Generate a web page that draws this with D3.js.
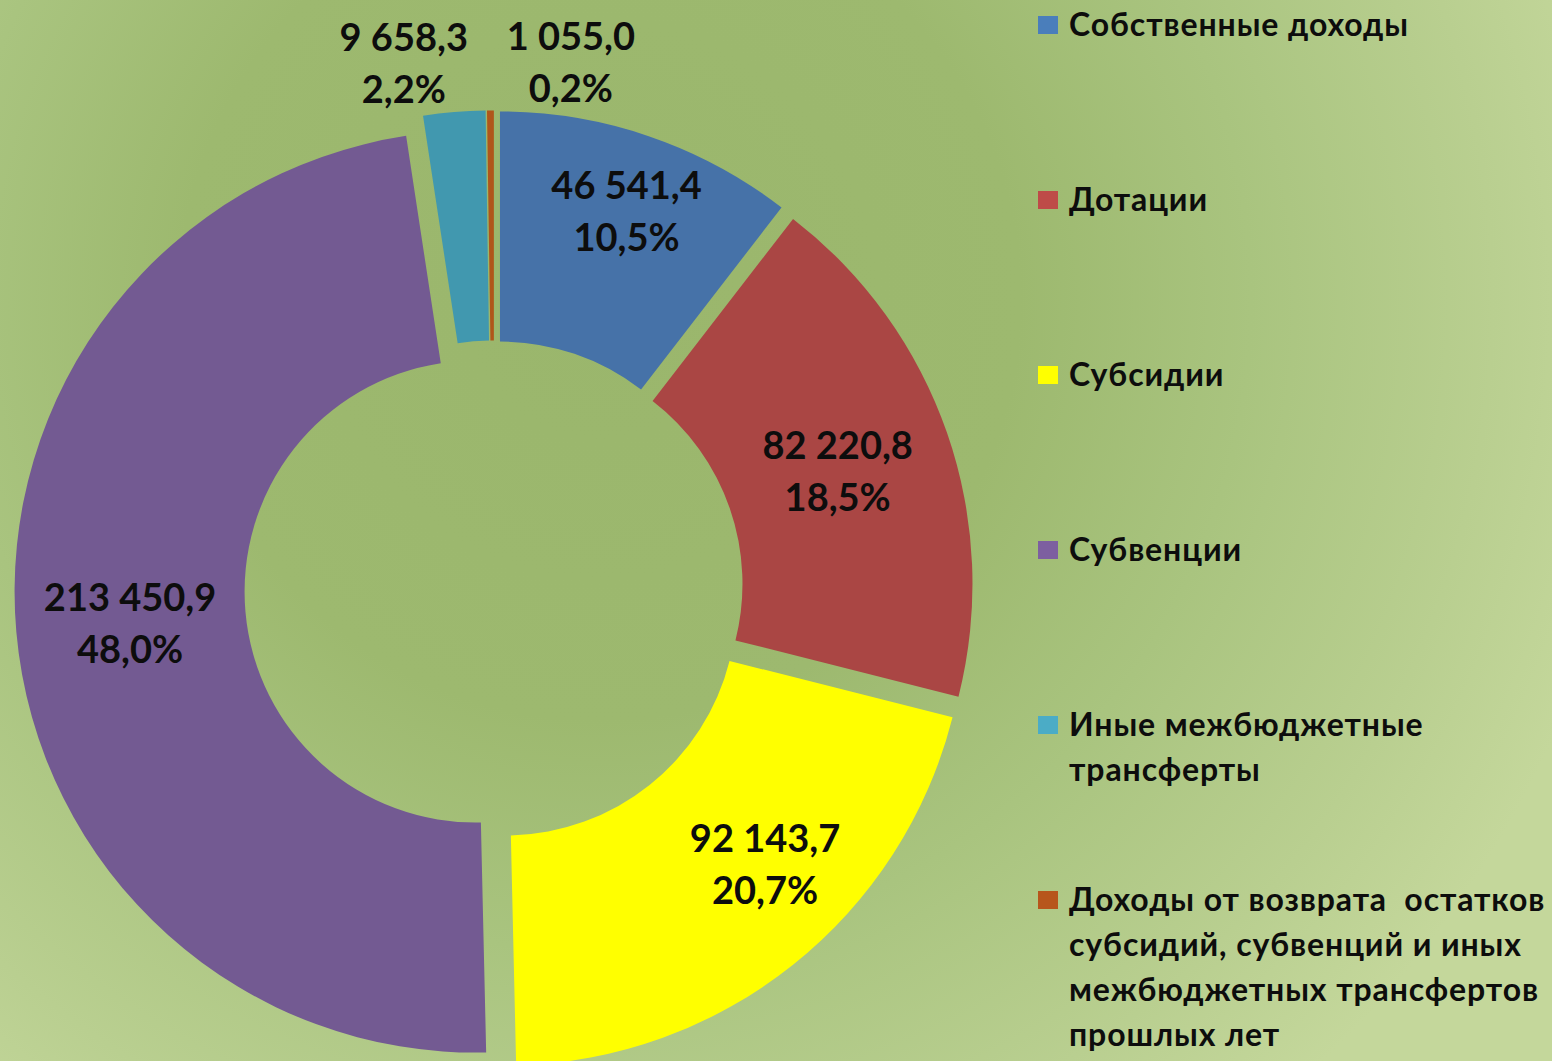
<!DOCTYPE html>
<html>
<head>
<meta charset="utf-8">
<script src="https://cdn.jsdelivr.net/npm/d3@7"></script>
<style>
  html, body { margin: 0; padding: 0; overflow: hidden; }
  svg { display: block; }
</style>
</head>
<body>
<svg id="chart" width="1552" height="1061"></svg>
<script>
// ---- data ----
const categories = [
  "Собственные доходы",
  "Дотации",
  "Субсидии",
  "Субвенции",
  "Иные межбюджетные трансферты",
  "Доходы от возврата остатков субсидий, субвенций и иных межбюджетных трансфертов прошлых лет"
];
const legendLines = [
  ["Собственные доходы"],
  ["Дотации"],
  ["Субсидии"],
  ["Субвенции"],
  ["Иные межбюджетные", "трансферты"],
  ["Доходы от возврата  остатков", "субсидий, субвенций и иных", "межбюджетных трансфертов", "прошлых лет"]
];
const values = [46541.4, 82220.8, 92143.7, 213450.9, 9658.3, 1055.0];
const percents = [10.5, 18.5, 20.7, 48.0, 2.2, 0.2];

// ---- style / layout ----
const sliceColors  = ["#4672a8", "#aa4644", "#ffff00", "#735a92", "#4198af", "#b0561a"];
const legendColors = ["#4a7ebb", "#be4b48", "#ffff00", "#7d5fa0", "#4bacc6", "#b7561c"];
// label placement: [radius, angle in degrees] relative to each exploded slice centre
const labelPolar = [[383, 19.3], [345, 71], [367, 135], [347, 264.7], [516, 350.1], [515, 8.6]];

const W = 1552, H = 1061;
const cx = 494, cy = 590;
const outerR = 461, innerR = 231, explode = 18.5;

const svg = d3.select("#chart");

// background gradient
const defs = svg.append("defs");
const grad = defs.append("radialGradient")
  .attr("id", "bg").attr("gradientUnits", "userSpaceOnUse")
  .attr("cx", 600).attr("cy", 300).attr("r", 1050);
[[0, "#9ab66c"], [0.4, "#9db96f"], [0.62, "#a9c47f"], [0.85, "#b9cf90"], [1, "#c4d79b"]]
  .forEach(([o, c]) => grad.append("stop").attr("offset", o).attr("stop-color", c));
svg.append("rect").attr("width", W).attr("height", H).attr("fill", "url(#bg)");

const loc = d3.formatLocale({decimal: ",", thousands: "\u00a0", grouping: [3], currency: ["", ""]});
const fmtVal = loc.format(",.1f");
const fmtPct = loc.format(".1f");

const pie = d3.pie().sort(null).value(d => d).startAngle(0).endAngle(2 * Math.PI);
const arcs = pie(values);
const arc = d3.arc().innerRadius(innerR).outerRadius(outerR);

const g = svg.append("g").attr("transform", `translate(${cx},${cy})`);

function sliceOffset(a) {
  const m = (a.startAngle + a.endAngle) / 2;
  return [Math.sin(m) * explode, -Math.cos(m) * explode];
}

const slices = g.selectAll("g.slice").data(arcs).enter().append("g")
  .attr("class", "slice")
  .attr("transform", d => { const o = sliceOffset(d); return `translate(${o[0]},${o[1]})`; });

slices.append("path")
  .attr("d", arc)
  .attr("fill", (d, i) => sliceColors[i]);

const fontFam = "Lato, 'Open Sans', 'DejaVu Sans', sans-serif";
const labelSize = 38;
const lineGap = 52;

slices.append("text")
  .attr("text-anchor", "middle")
  .attr("font-family", fontFam)
  .attr("font-weight", "bold")
  .attr("font-size", labelSize)
  .attr("fill", "#0d0d0d")
  .each(function(d, i) {
    const [r, ang] = labelPolar[i];
    const a = ang * Math.PI / 180;
    const x = Math.sin(a) * r, y = -Math.cos(a) * r;
    const t = d3.select(this);
    t.append("tspan").attr("x", x).attr("y", y - lineGap / 2 + labelSize * 0.36).text(fmtVal(values[i]));
    t.append("tspan").attr("x", x).attr("y", y + lineGap / 2 + labelSize * 0.36).text(fmtPct(percents[i]) + "%");
  });

// legend
const legX = 1038, legY0 = 25, legStep = 175, legLine = 45, legSize = 32;
const leg = svg.append("g");
const items = leg.selectAll("g").data(categories).enter().append("g")
  .attr("transform", (d, i) => `translate(${legX},${legY0 + i * legStep})`);
items.append("rect")
  .attr("x", 0).attr("y", -9).attr("width", 20).attr("height", 18)
  .attr("fill", (d, i) => legendColors[i]);
items.append("text")
  .attr("font-family", fontFam)
  .attr("font-weight", "bold")
  .attr("font-size", legSize)
  .attr("letter-spacing", 0.9)
  .attr("fill", "#0d0d0d")
  .each(function(d, i) {
    const t = d3.select(this);
    legendLines[i].forEach((ln, k) => {
      t.append("tspan").attr("x", 31).attr("y", k * legLine + legSize * 0.35).attr("xml:space", "preserve").text(ln);
    });
  });
</script>
</body>
</html>
